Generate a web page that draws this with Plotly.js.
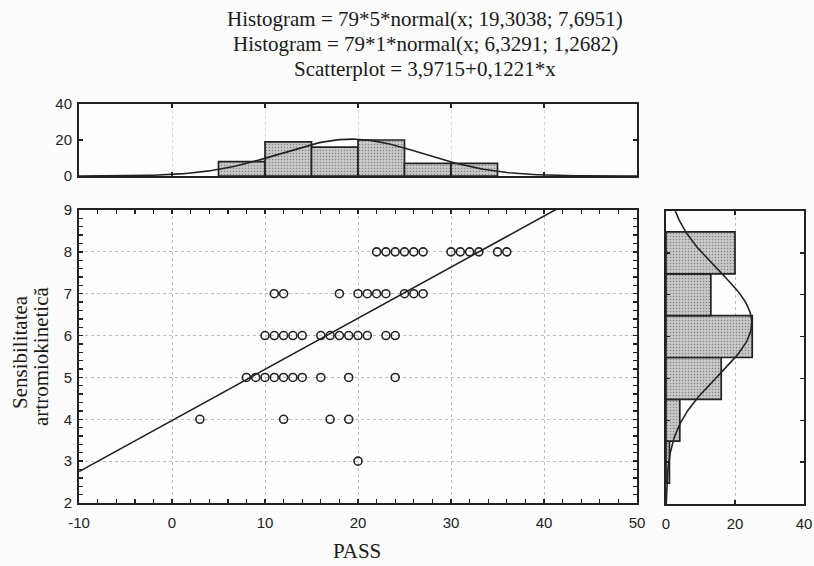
<!DOCTYPE html>
<html>
<head>
<meta charset="utf-8">
<script src="https://cdn.plot.ly/plotly-3.0.1.min.js"></script>
<style>
  html, body { margin: 0; padding: 0; background: #fcfcfc; }
  #chart { width: 814px; height: 566px; }
</style>
</head>
<body>
<div id="chart"></div>
<script>
// Heading lines: fitted normal curves and regression equation
const titleLines = [
  'Histogram = 79*5*normal(x; 19,3038; 7,6951)',
  'Histogram = 79*1*normal(x; 6,3291; 1,2682)',
  'Scatterplot = 3,9715+0,1221*x'
];

// Fit parameters as stated in the heading
const nCases = 79;
const passMean = 19.3038, passSd = 7.6951, passBinWidth = 5;
const sensMean = 6.3291, sensSd = 1.2682, sensBinWidth = 1;
const regIntercept = 3.9715, regSlope = 0.1221;

// PASS histogram (bins of width 5, lower edges) and counts
const passBinLow = [5, 10, 15, 20, 25, 30];
const passCounts = [8, 19, 16, 20, 7, 7];

// Sensibilitate histogram (integer levels) and counts
const sensLevels = [3, 4, 5, 6, 7, 8];
const sensCounts = [1, 4, 16, 25, 13, 20];

// Scatter observations (PASS, sensibilitate) — distinct positions
const passScores = [
  22, 23, 24, 25, 26, 27, 30, 31, 32, 33, 35, 36,
  11, 12, 18, 20, 21, 22, 23, 25, 26, 27,
  10, 11, 12, 13, 14, 16, 17, 18, 19, 20, 21, 23, 24,
  8, 9, 10, 11, 12, 13, 14, 16, 19, 24,
  3, 12, 17, 19,
  20
];
const sensScores = [
  8, 8, 8, 8, 8, 8, 8, 8, 8, 8, 8, 8,
  7, 7, 7, 7, 7, 7, 7, 7, 7, 7,
  6, 6, 6, 6, 6, 6, 6, 6, 6, 6, 6, 6, 6,
  5, 5, 5, 5, 5, 5, 5, 5, 5, 5,
  4, 4, 4, 4,
  3
];

// Axis ranges and tick labels
const passRange = [-10, 50];
const passTicks = [-10, 0, 10, 20, 30, 40, 50];
const passTickText = ['-10', '0', '10', '20', '30', '40', '50'];
const sensRange = [2, 9];
const countRange = [0, 40];

function normalPdf(v, m, s) {
  return Math.exp(-0.5 * Math.pow((v - m) / s, 2)) / (s * Math.sqrt(2 * Math.PI));
}

// Fitted curves evaluated along each axis
const passGrid = [], passCurve = [];
for (let v = passRange[0]; v <= passRange[1] + 1e-9; v += 0.25) {
  passGrid.push(v);
  passCurve.push(nCases * passBinWidth * normalPdf(v, passMean, passSd));
}
const sensGrid = [], sensCurve = [];
for (let v = sensRange[0]; v <= sensRange[1] + 1e-9; v += 0.05) {
  sensGrid.push(v);
  sensCurve.push(nCases * sensBinWidth * normalPdf(v, sensMean, sensSd));
}

const ink = '#222222';
const serif = 'Liberation Serif, Times New Roman, serif';
const barStyle = {
  color: '#c2c2c2',
  pattern: { shape: '.', fgcolor: '#858585', bgcolor: '#c8c8c8', size: 3, solidity: 0.2 },
  line: { color: ink, width: 1.7 }
};

const traces = [
  {
    type: 'bar', xaxis: 'x2', yaxis: 'y2',
    x: passBinLow.map(v => v + passBinWidth / 2), y: passCounts,
    width: passBinWidth, marker: barStyle
  },
  {
    type: 'scatter', mode: 'lines', xaxis: 'x2', yaxis: 'y2',
    x: passGrid, y: passCurve, line: { color: ink, width: 1.6 }
  },
  {
    type: 'bar', orientation: 'h', xaxis: 'x3', yaxis: 'y3',
    y: sensLevels, x: sensCounts, width: sensBinWidth, marker: barStyle
  },
  {
    type: 'scatter', mode: 'lines', xaxis: 'x3', yaxis: 'y3',
    x: sensCurve, y: sensGrid, line: { color: ink, width: 1.6 }
  },
  {
    type: 'scatter', mode: 'markers', xaxis: 'x', yaxis: 'y',
    x: passScores, y: sensScores,
    marker: { symbol: 'circle-open', size: 8, color: ink, line: { width: 1.6, color: ink } }
  },
  {
    type: 'scatter', mode: 'lines', xaxis: 'x', yaxis: 'y',
    x: passRange, y: passRange.map(v => regIntercept + regSlope * v),
    line: { color: ink, width: 1.6 }
  }
];

const W = 814, H = 566;
const fx = px => px / W;
const fy = py => 1 - py / H;

const boxAxis = {
  showline: true, linewidth: 2, linecolor: ink, mirror: 'allticks',
  ticks: 'inside', ticklen: 4, tickwidth: 1.4, tickcolor: ink,
  zeroline: false, showgrid: true, gridcolor: '#bdbdbd', griddash: 'dot', gridwidth: 1,
  tickfont: { family: 'Liberation Sans, Arial, sans-serif', size: 15, color: ink },
  fixedrange: true
};

const textNote = (text, x, y, angle) => ({
  text: text, xref: 'paper', yref: 'paper', x: fx(x), y: fy(y),
  xanchor: 'center', yanchor: 'middle', textangle: angle || 0, showarrow: false,
  font: { family: serif, size: 21, color: '#1a1a1a' }
});

const layout = {
  width: W, height: H,
  margin: { l: 0, r: 0, t: 0, b: 0 },
  paper_bgcolor: '#fcfcfc', plot_bgcolor: '#fdfdfd',
  showlegend: false,
  bargap: 0,
  xaxis: Object.assign({}, boxAxis, {
    domain: [fx(79), fx(637)], range: passRange, anchor: 'y',
    tickmode: 'array', tickvals: passTicks, ticktext: passTickText, ticklabelstandoff: 5,
    minor: { tick0: 0, dtick: 2, ticks: 'inside', ticklen: 4, tickcolor: ink, showgrid: false }
  }),
  yaxis: Object.assign({}, boxAxis, {
    domain: [fy(503), fy(210)], range: sensRange, anchor: 'x',
    tick0: 0, dtick: 1, ticklabelstandoff: 2,
    minor: { tick0: 0, dtick: 0.2, ticks: 'inside', ticklen: 4, tickcolor: ink, showgrid: false }
  }),
  xaxis2: Object.assign({}, boxAxis, {
    domain: [fx(79), fx(637)], range: passRange, anchor: 'y2',
    tick0: 0, dtick: 10, showticklabels: false, gridcolor: '#d6d6d6'
  }),
  yaxis2: Object.assign({}, boxAxis, {
    domain: [fy(176), fy(104)], range: countRange, anchor: 'x2',
    tick0: 0, dtick: 20, ticklabelstandoff: 2, showgrid: false
  }),
  xaxis3: Object.assign({}, boxAxis, {
    domain: [fx(666), fx(804)], range: countRange, anchor: 'y3',
    tick0: 0, dtick: 20, ticklabelstandoff: 5
  }),
  yaxis3: Object.assign({}, boxAxis, {
    domain: [fy(504), fy(211)], range: sensRange, anchor: 'x3',
    tick0: 0, dtick: 1, showticklabels: false, showgrid: false
  }),
  annotations: [
    textNote(titleLines[0], 425, 19),
    textNote(titleLines[1], 425, 44),
    textNote(titleLines[2], 425, 69),
    textNote('Sensibilitatea', 20, 352, -90),
    textNote('artromiokinetică', 41, 357, -90),
    textNote('PASS', 357, 551)
  ]
};

Plotly.newPlot('chart', traces, layout, { displayModeBar: false, staticPlot: true });
</script>
</body>
</html>
